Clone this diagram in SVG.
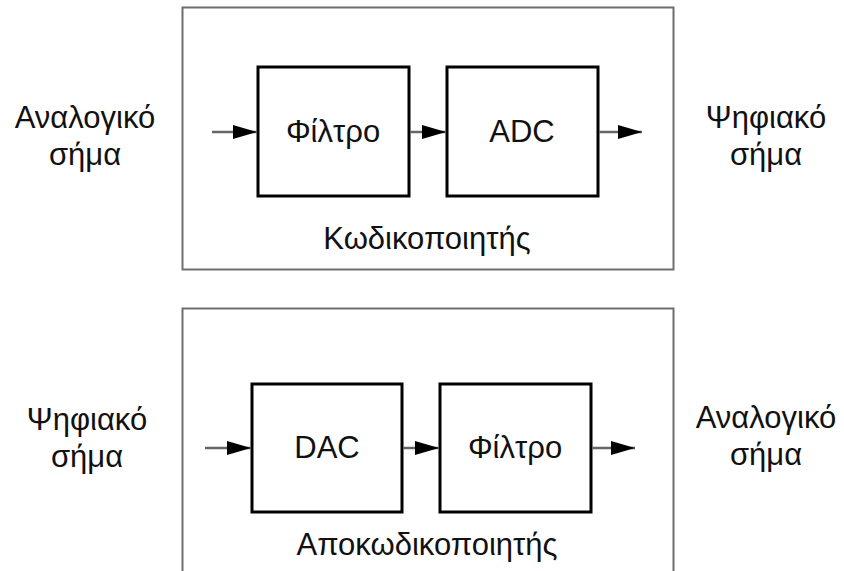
<svg xmlns="http://www.w3.org/2000/svg" width="844" height="571" viewBox="0 0 844 571">
<defs>
<style>
.outer{fill:none;stroke:#6e6e6e;stroke-width:2}
.blk{fill:#fff;stroke:#000;stroke-width:3}
.wire{fill:none;stroke:#666;stroke-width:2.5}
text{font-family:"Liberation Sans",Arial,sans-serif;font-size:31px;fill:#111;text-anchor:middle}
</style>
<marker id="ah" markerUnits="userSpaceOnUse" markerWidth="26" markerHeight="18" refX="25" refY="9" orient="auto">
<path d="M1,2 L25,9 L1,16 Z" fill="#000"/>
</marker>
</defs>
<g id="encoder">
<rect class="outer" x="182.5" y="7.5" width="491" height="262"/>
<text x="427" y="249">Κωδικοποιητής</text>
</g>
<g id="decoder">
<rect class="outer" x="182.5" y="308.5" width="491" height="270"/>
<text x="427" y="555">Αποκωδικοποιητής</text>
</g>
<g id="enc-filter">
<rect class="blk" x="258" y="67" width="151" height="129"/>
<text x="333" y="142">Φίλτρο</text>
</g>
<g id="adc">
<rect class="blk" x="447" y="67" width="151" height="129"/>
<text x="522" y="142">ADC</text>
</g>
<g id="dac">
<rect class="blk" x="252" y="384" width="150" height="128"/>
<text x="327" y="458">DAC</text>
</g>
<g id="dec-filter">
<rect class="blk" x="440" y="384" width="151" height="128"/>
<text x="515" y="458">Φίλτρο</text>
</g>
<g id="in-top"><text x="85" y="128">Αναλογικό</text><text x="85" y="165">σήμα</text></g>
<g id="out-top"><text x="766" y="128">Ψηφιακό</text><text x="766" y="165">σήμα</text></g>
<g id="in-bot"><text x="87" y="430">Ψηφιακό</text><text x="87" y="467">σήμα</text></g>
<g id="out-bot"><text x="766" y="428">Αναλογικό</text><text x="766" y="465">σήμα</text></g>
<g id="connectors">
<line class="wire" x1="212" y1="132" x2="257" y2="132" marker-end="url(#ah)"/>
<line class="wire" x1="410" y1="132" x2="446" y2="132" marker-end="url(#ah)"/>
<line class="wire" x1="599" y1="132" x2="642" y2="132" marker-end="url(#ah)"/>
<line class="wire" x1="205" y1="448" x2="251" y2="448" marker-end="url(#ah)"/>
<line class="wire" x1="403" y1="448" x2="439" y2="448" marker-end="url(#ah)"/>
<line class="wire" x1="592" y1="448" x2="635" y2="448" marker-end="url(#ah)"/>
</g>
</svg>
